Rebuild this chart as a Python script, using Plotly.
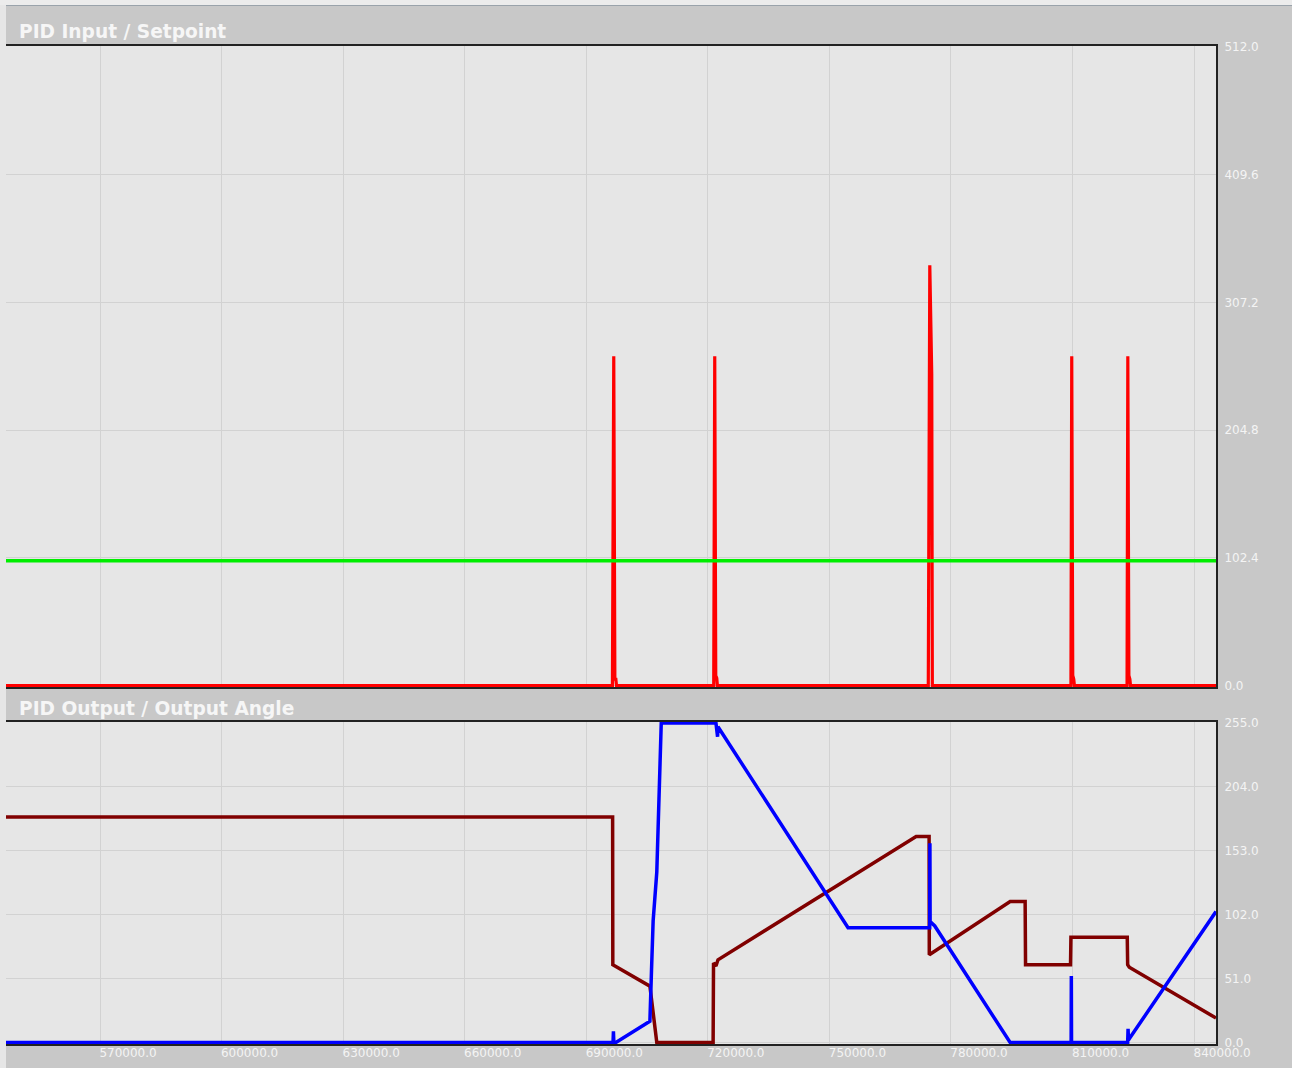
import plotly.graph_objects as go

# ---------------- data ----------------
# PID Input (red) - time / value
input_t = [546800, 696450, 696780, 697050, 697300, 697450,
           721450, 721700, 721950, 722200, 722350,
           774400, 774770, 775150, 775250, 775400,
           809600, 809800, 810050, 810300, 810450,
           823450, 823640, 823900, 824150, 824300, 845400]
input_v = [0, 0, 264, 5, 5, 0,
           0, 264, 8, 6, 0,
           0, 337, 250, 250, 0,
           0, 264, 8, 5, 0,
           0, 264, 8, 5, 0, 0]

# Setpoint (green)
setpoint_t = [546800, 845400]
setpoint_v = [100, 100]

# PID Output (blue)
output_t = [546800, 696600, 696700, 696800, 697300, 705700, 706100, 706500,
            707400, 707800, 708200, 708500, 722000, 722400, 722500, 754600,
            774650, 774750, 774800, 774850, 776000, 794600, 809650, 809700,
            809750, 823600, 823700, 823800, 824000, 845400]
output_v = [0, 0, 9, 0, 0, 17, 58, 97,
            136, 176, 216, 255, 255, 244, 252, 91.6,
            91.6, 91.6, 159, 96.5, 93, 0, 0, 53,
            0, 0, 11, 2, 3, 104.5]

# Output Angle (dark red)
angle_t = [546800, 696500, 696550, 705700, 707400, 721300, 721400, 722000,
           722500, 771400, 774600, 774650, 794600, 798300, 798400, 809500,
           809600, 823500, 823600, 824000, 845400]
angle_v = [180, 180, 62, 45, 0, 0, 63.5, 61,
           66, 164.5, 164.5, 70, 112.6, 112.6, 62, 62,
           84, 84, 62, 60, 19.5]

x_ticks = [570000, 600000, 630000, 660000, 690000, 720000, 750000, 780000, 810000, 840000]
top_y_ticks = [0, 102.4, 204.8, 307.2, 409.6, 512.0]
bot_y_ticks = [0, 51, 102, 153, 204, 255]

titles = ["PID Input / Setpoint", "PID Output / Output Angle"]

# ---------------- figure ----------------
W, H = 1292, 1068
ML, MR, MT, MB = 6, 76, 46, 24
plot_h = H - MT - MB

def py(y_px):
    return (H - MB - y_px) / plot_h

def px(x_px):
    return (x_px - ML) / (W - ML - MR)

fig = go.Figure()
fig.add_trace(go.Scatter(x=input_t, y=input_v, mode="lines",
                         line=dict(color="#ff0000", width=3.2), xaxis="x", yaxis="y"))
fig.add_trace(go.Scatter(x=setpoint_t, y=setpoint_v, mode="lines",
                         line=dict(color="#00ee00", width=3.5), xaxis="x", yaxis="y"))
fig.add_trace(go.Scatter(x=angle_t, y=angle_v, mode="lines",
                         line=dict(color="#800000", width=3.5), xaxis="x2", yaxis="y2"))
fig.add_trace(go.Scatter(x=output_t, y=output_v, mode="lines",
                         line=dict(color="#0000ff", width=3.5), xaxis="x2", yaxis="y2"))

tickfont = dict(family="DejaVu Sans", size=12, color="#f4f4f4")
common_x = dict(range=[546800, 845400], tickvals=x_ticks,
                ticktext=[f"{v:.1f}" for v in x_ticks],
                showgrid=True, gridcolor="#d2d2d2", gridwidth=1,
                showline=True, linecolor="#222222", linewidth=2, mirror=True,
                zeroline=False, ticks="", tickfont=tickfont, layer="below traces")
common_y = dict(side="right", showgrid=True, gridcolor="#d2d2d2", gridwidth=1,
                showline=True, linecolor="#222222", linewidth=2, mirror=False,
                zeroline=False, ticks="", tickfont=tickfont, layer="below traces",
                ticklabelstandoff=4)

top_lo = py(687)
bot_hi = py(722)

fig.update_layout(
    width=W, height=H,
    margin=dict(l=ML, r=MR, t=MT, b=MB),
    paper_bgcolor="#c8c8c8", plot_bgcolor="#e6e6e6",
    showlegend=False, hovermode=False,
    xaxis=dict(common_x, domain=[0, 1], anchor="y", showticklabels=False, matches="x2"),
    yaxis=dict(common_y, domain=[top_lo, 1], anchor="x", range=[-1.2, 512.8],
               tickvals=top_y_ticks, ticktext=[f"{v:.1f}" for v in top_y_ticks]),
    xaxis2=dict(common_x, domain=[0, 1], anchor="y2", showticklabels=True,
                ticklabelshift=28, ticklabelstandoff=-3),
    yaxis2=dict(common_y, domain=[0, bot_hi], anchor="x2", range=[-1.2, 255.8],
                tickvals=bot_y_ticks, ticktext=[f"{v:.1f}" for v in bot_y_ticks]),
)

title_font = dict(family="DejaVu Sans", size=18.6, color="#f6f6f6")
for text, yc in zip(titles, [31, 708]):
    fig.add_annotation(text=f"<b>{text}</b>", xref="paper", yref="paper",
                       x=px(17), y=py(yc), xanchor="left", yanchor="middle",
                       showarrow=False, font=title_font)

# page border strips (top and left)
fig.add_shape(type="rect", xref="paper", yref="paper",
              x0=px(0), x1=px(W), y0=py(5), y1=py(0),
              fillcolor="#ececec", line=dict(width=0), layer="above")
fig.add_shape(type="line", xref="paper", yref="paper",
              x0=px(0), x1=px(W), y0=py(5.5), y1=py(5.5),
              line=dict(color="#9aa3ab", width=1), layer="above")
fig.add_shape(type="rect", xref="paper", yref="paper",
              x0=px(0), x1=px(6), y0=py(H), y1=py(5),
              fillcolor="#e6e6e6", line=dict(width=0), layer="above")

fig.write_html("out.html")
